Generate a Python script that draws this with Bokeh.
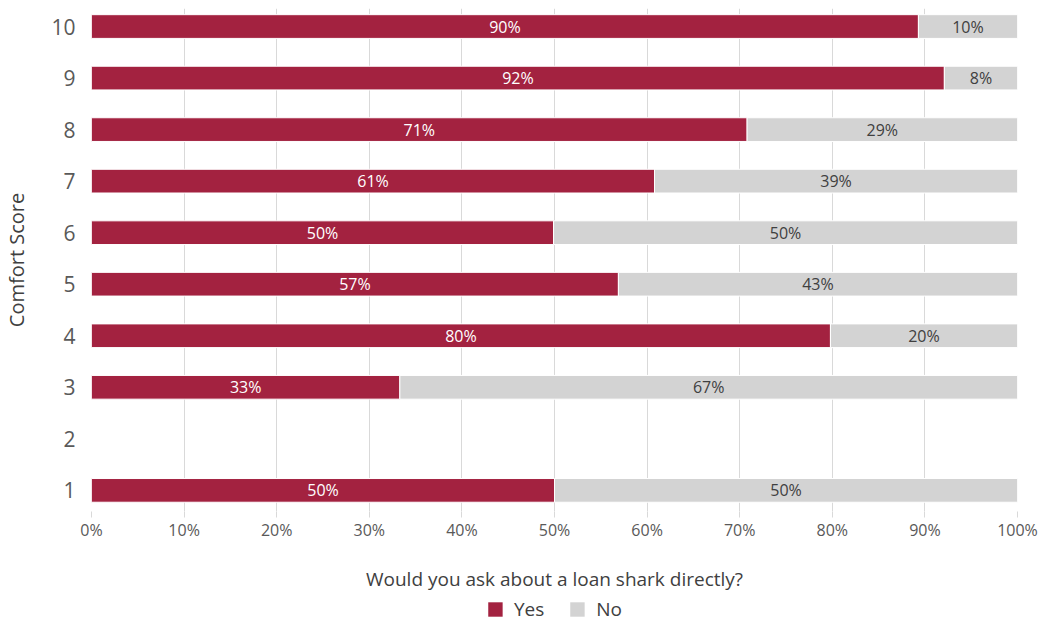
from bokeh.plotting import figure
from bokeh.layouts import column
from bokeh.models import ColumnDataSource, FixedTicker, Range1d, Legend, LegendItem, CustomJSTickFormatter, LabelSet
from bokeh.embed import file_html
from bokeh.resources import INLINE
from bokeh.core.properties import value

scores = [1, 3, 4, 5, 6, 7, 8, 9, 10]
yes = [50.0, 33.3, 79.8, 56.9, 49.9, 60.8, 70.8, 92.1, 89.3]
no = [100 - v for v in yes]
yes_labels = ["50%", "33%", "80%", "57%", "50%", "61%", "71%", "92%", "90%"]
no_labels = ["50%", "67%", "20%", "43%", "50%", "39%", "29%", "8%", "10%"]
y_ticks = [1, 2, 3, 4, 5, 6, 7, 8, 9, 10]
x_ticks = [0, 10, 20, 30, 40, 50, 60, 70, 80, 90, 100]
series_names = ["Yes", "No"]

YES_C = "#A32240"
NO_C = "#D3D3D3"
TXT = "#595959"
FONT = "Open Sans"

src = ColumnDataSource(dict(
    y=scores,
    yes=yes,
    total=[a + b for a, b in zip(yes, no)],
    yes_mid=[v / 2 for v in yes],
    no_mid=[a + b / 2 for a, b in zip(yes, no)],
    yes_lab=yes_labels,
    no_lab=no_labels,
))

p = figure(width=1045, height=596, output_backend="svg", toolbar_location=None,
           x_range=Range1d(0, 100), y_range=Range1d(0.59, 10.35),
           min_border_left=91, min_border_right=28, min_border_top=8, min_border_bottom=85)
p.outline_line_color = None

p.hbar(y="y", left=0, right="yes", height=0.46, source=src,
       fill_color=YES_C, line_color="white", line_width=1)
p.hbar(y="y", left="yes", right="total", height=0.46, source=src,
       fill_color=NO_C, line_color="white", line_width=1)

p.add_layout(LabelSet(x="yes_mid", y="y", text="yes_lab", source=src,
                      text_align="center", text_baseline="middle",
                      text_color="white", text_font=value(FONT), text_font_size="16px"))
p.add_layout(LabelSet(x="no_mid", y="y", text="no_lab", source=src,
                      text_align="center", text_baseline="middle",
                      text_color="#404040", text_font=value(FONT), text_font_size="16px"))

# x axis
xa = p.xaxis[0]
xa.ticker = FixedTicker(ticks=x_ticks)
xa.formatter = CustomJSTickFormatter(code="return tick + '%';")
xa.axis_line_color = None
xa.major_tick_line_color = "#D9D9D9"
xa.major_tick_in = 0
xa.major_tick_out = 6
xa.minor_tick_line_color = None
xa.major_label_text_font = FONT
xa.major_label_text_font_size = "16px"
xa.major_label_text_color = TXT
xa.major_label_standoff = 1
xa.axis_label = "Would you ask about a loan shark directly?"
xa.axis_label_text_font = FONT
xa.axis_label_text_font_size = "19px"
xa.axis_label_text_font_style = "normal"
xa.axis_label_text_color = "#404040"
xa.axis_label_standoff = 22

# y axis
ya = p.yaxis[0]
ya.ticker = FixedTicker(ticks=y_ticks)
ya.axis_line_color = None
ya.major_tick_line_color = None
ya.minor_tick_line_color = None
ya.major_label_text_font = FONT
ya.major_label_text_font_size = "21px"
ya.major_label_text_color = TXT
ya.major_label_standoff = 10
ya.axis_label = "Comfort Score"
ya.axis_label_text_font = FONT
ya.axis_label_text_font_size = "20px"
ya.axis_label_text_font_style = "normal"
ya.axis_label_text_color = "#404040"
ya.axis_label_standoff = 18

p.xgrid.grid_line_color = "#D9D9D9"
p.xgrid.ticker = FixedTicker(ticks=x_ticks)
p.ygrid.grid_line_color = None

# legend strip
lg = figure(width=1045, height=25, output_backend="svg", toolbar_location=None,
            x_range=Range1d(0, 1), y_range=Range1d(0, 1),
            min_border_left=91, min_border_right=28, min_border_top=0, min_border_bottom=0)
lg.outline_line_color = None
lg.axis.visible = False
lg.grid.grid_line_color = None
dummy = ColumnDataSource(dict(x=[0.5], y=[0.5]))
ry = lg.rect(x="x", y="y", width=0, height=0, source=dummy, fill_color=YES_C, line_color=None)
rn = lg.rect(x="x", y="y", width=0, height=0, source=dummy, fill_color=NO_C, line_color=None)
legend = Legend(items=[LegendItem(label=series_names[0], renderers=[ry]),
                       LegendItem(label=series_names[1], renderers=[rn])],
                orientation="horizontal", location="center",
                label_text_font=FONT, label_text_font_size="19px",
                label_text_color="#404040", glyph_width=18, glyph_height=18,
                spacing=24, padding=0, margin=0, border_line_color=None,
                background_fill_alpha=0,
                label_standoff=10, label_height=20)
lg.add_layout(legend, "center")

open("out.html", "w").write(file_html(column(p, lg, spacing=0), INLINE))
